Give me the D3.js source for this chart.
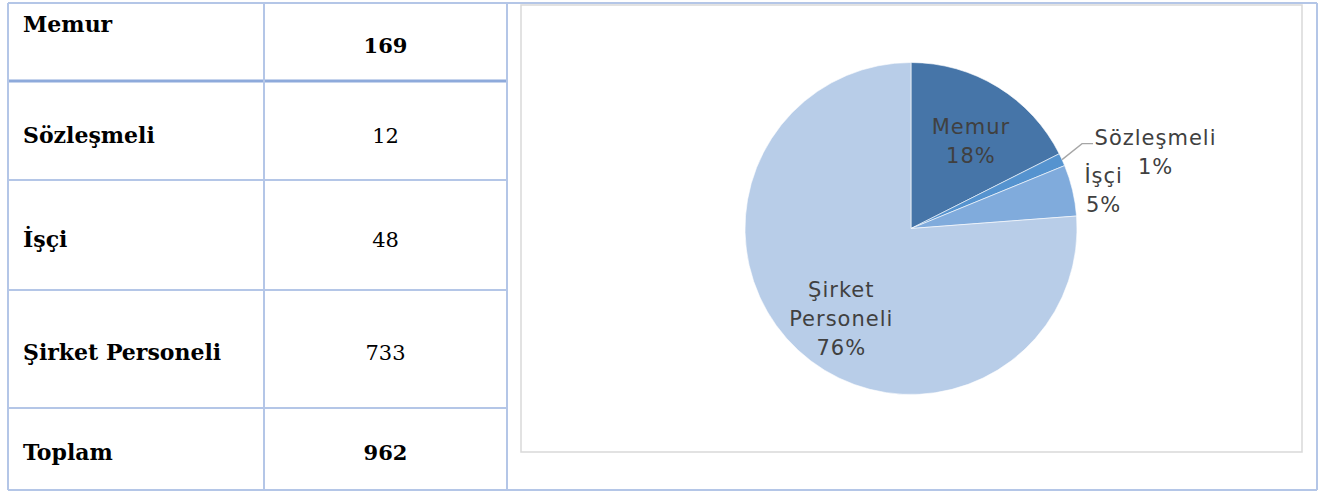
<!DOCTYPE html>
<html>
<head>
<meta charset="utf-8">
<script src="https://cdn.jsdelivr.net/npm/d3@7/dist/d3.min.js"></script>
<style>
  html, body { margin: 0; padding: 0; background: #fff; }
  svg { display: block; }
  .cell-label { font-family: "DejaVu Serif", serif; font-size: 22px; font-weight: bold; fill: #000; }
  .cell-value { font-family: "DejaVu Serif", serif; font-size: 21px; fill: #000; text-anchor: middle; }
  .pie-label { font-family: "DejaVu Sans", sans-serif; font-size: 21px; letter-spacing: 1px; fill: #404040; text-anchor: middle; }
</style>
</head>
<body>
<div id="chart"></div>
<script>
// Data
var categories = ['Memur', 'Sözleşmeli', 'İşçi', 'Şirket Personeli'];
var counts = [169, 12, 48, 733];
var totalLabel = 'Toplam';
var boldValues = ['Memur', 'Toplam'];   // rows whose numbers are bold in the table
var sliceColors = ['#4675a8', '#5593cf', '#80abdc', '#b8cde8'];

var width = 1322, height = 491;

var svg = d3.select('#chart').append('svg')
    .attr('width', width)
    .attr('height', height);

/**
 * Table on the left
 */
(function drawTable() {
    var rows = categories.map(function(c, i) { return { name: c, value: counts[i] }; });
    rows.push({ name: totalLabel, value: d3.sum(counts) });

    var rowEdges = [3, 81, 180, 290, 408, 490];
    var colEdges = [8, 264, 507, 1317];
    var baselines = [32, 143, 247, 360, 460];
    var valueBaselines = [53, 143, 247, 360, 460];
    var lineColor = '#b4c6e7';

    var g = svg.append('g').attr('class', 'table');

    // horizontal rules
    g.selectAll('line.h').data(rowEdges)
        .enter().append('line')
        .attr('class', 'h')
        .attr('x1', colEdges[0]).attr('x2', function(d, i) { return (i === 0 || i === rowEdges.length - 1) ? colEdges[3] : colEdges[2]; })
        .attr('y1', function(d) { return d; }).attr('y2', function(d) { return d; })
        .attr('stroke', function(d, i) { return i === 1 ? '#8eaadb' : lineColor; })
        .attr('stroke-width', function(d, i) { return i === 1 ? 3 : 2; });

    // vertical rules
    g.selectAll('line.v').data(colEdges)
        .enter().append('line')
        .attr('class', 'v')
        .attr('x1', function(d) { return d; }).attr('x2', function(d) { return d; })
        .attr('y1', rowEdges[0]).attr('y2', rowEdges[rowEdges.length - 1])
        .attr('stroke', lineColor)
        .attr('stroke-width', 2);

    g.selectAll('text.cell-label').data(rows)
        .enter().append('text')
        .attr('class', 'cell-label')
        .attr('x', 23)
        .attr('y', function(d, i) { return baselines[i]; })
        .text(function(d) { return d.name; });

    g.selectAll('text.cell-value').data(rows)
        .enter().append('text')
        .attr('class', 'cell-value')
        .attr('x', (colEdges[1] + colEdges[2]) / 2)
        .attr('y', function(d, i) { return valueBaselines[i]; })
        .style('font-weight', function(d) { return boldValues.indexOf(d.name) >= 0 ? 'bold' : 'normal'; })
        .text(function(d) { return d.value; });
})();

/**
 * Pie chart on the right
 */
(function drawPie() {
    var frame = { x: 521, y: 5, w: 781, h: 447 };
    svg.append('rect')
        .attr('x', frame.x).attr('y', frame.y)
        .attr('width', frame.w).attr('height', frame.h)
        .attr('fill', '#fff')
        .attr('stroke', '#d9d9d9')
        .attr('stroke-width', 1.5);

    var cx = 911, cy = 228.5, radius = 166;
    var total = d3.sum(counts);
    var data = categories.map(function(c, i) { return { name: c, value: counts[i] }; });

    var pie = d3.pie().sort(null).value(function(d) { return d.value; });
    var arc = d3.arc().innerRadius(0).outerRadius(radius);
    var color = d3.scaleOrdinal().domain(categories).range(sliceColors);

    var g = svg.append('g').attr('transform', 'translate(' + cx + ',' + cy + ')');
    var arcs = pie(data);

    g.selectAll('path').data(arcs)
        .enter().append('path')
        .attr('d', arc)
        .attr('fill', function(d) { return color(d.data.name); })
        .attr('stroke', '#fff')
        .attr('stroke-width', 0.6);

    // label placement: radius factor along slice middle, plus nudges
    var labelPos = {
        'Memur':            { r: 0.62, dx: 6,   dy: 1 },
        'Sözleşmeli':       { r: 1.5,  dx: 18,  dy: 27 },
        'İşçi':             { r: 1.18, dx: 2,   dy: 7 },
        'Şirket Personeli': { r: 0.6,  dx: -2,  dy: 17 }
    };
    var lineH = 29;
    var pct = d3.format('.0%');

    arcs.forEach(function(a) {
        var p = labelPos[a.data.name];
        var c = d3.arc().innerRadius(radius * p.r).outerRadius(radius * p.r).centroid(a);
        var lines = a.data.name.split(' ').concat([pct(a.data.value / total)]);
        var x = c[0] + p.dx;
        var y0 = c[1] + p.dy - (lines.length - 1) * lineH / 2 + 7;
        var t = g.append('text').attr('class', 'pie-label');
        lines.forEach(function(l, i) {
            t.append('tspan').attr('x', x).attr('y', y0 + i * lineH).text(l);
        });
    });

    // leader line for the thin slice
    var thin = arcs[1];
    var start = d3.arc().innerRadius(radius).outerRadius(radius).centroid(thin);
    g.append('polyline')
        .attr('points', [start, [start[0] + 20, start[1] - 16], [start[0] + 31, start[1] - 16]].map(function(p) { return p.join(','); }).join(' '))
        .attr('fill', 'none')
        .attr('stroke', '#a6a6a6')
        .attr('stroke-width', 1.3);
})();
</script>
</body>
</html>
